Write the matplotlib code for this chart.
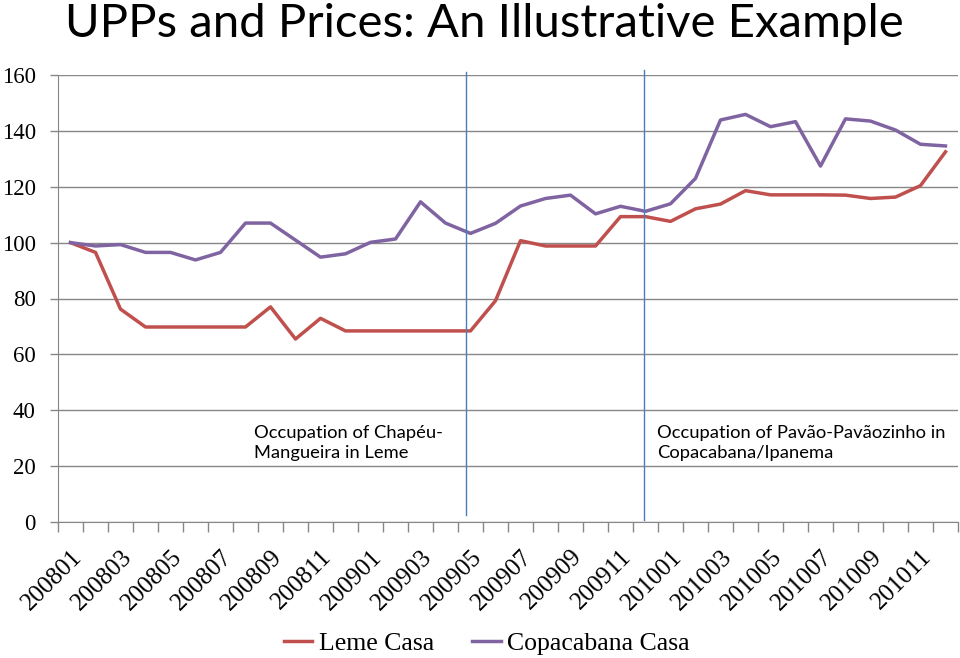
import matplotlib
matplotlib.use("Agg")
import matplotlib.pyplot as plt
import numpy as np

months = [f"{y}{m:02d}" for y in (2008, 2009, 2010) for m in range(1, 13)]
leme = [100, 96.5, 76.2, 69.8, 69.8, 69.8, 69.8, 69.8, 77.0, 65.5, 72.9, 68.4,
        68.4, 68.4, 68.4, 68.4, 68.4, 79.2, 100.7, 98.8, 98.8, 98.8, 109.3, 109.3,
        107.6, 112.1, 113.8, 118.6, 117.1, 117.1, 117.1, 117.0, 115.8, 116.3, 120.4, 132.5]
copa = [100, 98.8, 99.3, 96.5, 96.5, 93.8, 96.5, 107.0, 107.0, 100.9, 94.8, 96.0,
        100.1, 101.3, 114.6, 107.0, 103.3, 106.9, 113.1, 115.8, 117.0, 110.3, 113.0, 111.2,
        113.9, 123.0, 143.9, 145.9, 141.5, 143.3, 127.4, 144.3, 143.5, 140.3, 135.2, 134.6]
yticks = [0, 20, 40, 60, 80, 100, 120, 140, 160]
series_names = ["Leme Casa", "Copacabana Casa"]
notes = ["Occupation of Chapéu-\nMangueira in Leme",
         "Occupation of Pavão-Pavãozinho in\nCopacabana/Ipanema"]

SERIF = "Liberation Serif"
SANS = "Lato"
RED = "#C0504D"
PURPLE = "#8064A2"
GRID = "#878787"
VLINE = "#4A7EBB"

fig = plt.figure(figsize=(9.6, 6.58), dpi=100)
ax = fig.add_axes([58/960, 1-522/658, 900/960, 447/658])

x = np.arange(len(months))
ax.plot(x, leme, color=RED, lw=2.5, label=series_names[0], solid_joinstyle="round")
ax.plot(x, copa, color=PURPLE, lw=2.5, label=series_names[1], solid_joinstyle="round")

ax.set_xlim(-0.5, len(months) - 0.5)
ax.set_ylim(0, 160)
ax.set_yticks(yticks)
ax.set_yticklabels([str(v) for v in yticks], fontfamily=SERIF, fontsize=16.5)
ax.yaxis.grid(True, color=GRID, lw=1)
ax.set_axisbelow(True)
ax.tick_params(axis="y", length=6, color=GRID, pad=10, width=1)

ax.set_xticks(np.arange(-0.5, len(months), 1), minor=True)
ax.set_xticks(x[::2])
ax.set_xticklabels(months[::2], rotation=45, ha="right", va="top",
                   rotation_mode="anchor", fontfamily=SERIF, fontsize=18)
ax.tick_params(axis="x", which="major", length=0, pad=17)
ax.tick_params(axis="x", which="minor", length=7, color=GRID, width=1)

for s in ("top", "right"):
    ax.spines[s].set_visible(False)
ax.spines["left"].set_color(GRID)
ax.spines["bottom"].set_color(GRID)

# event marker lines
ax.plot([15.82, 15.82], [2.5, 161.1], color=VLINE, lw=1, clip_on=False)
ax.plot([22.94, 22.94], [0.7, 161.8], color=VLINE, lw=1, clip_on=False)

ax.text(7.35, 21.8, notes[0], fontfamily=SANS, fontsize=13.2, va="bottom", ha="left",
        linespacing=1.3)
ax.text(23.45, 21.8, notes[1], fontfamily=SANS, fontsize=13.2, va="bottom", ha="left",
        linespacing=1.3)

fig.text(0.505, 0.995, "UPPs and Prices: An Illustrative Example", ha="center", va="top",
         fontfamily=SANS, fontsize=34)

leg = fig.legend(loc="lower center", bbox_to_anchor=(0.507, -0.03), ncol=2, frameon=False,
                 prop={"family": SERIF, "size": 18.5}, handlelength=1.1, handletextpad=0.25,
                 columnspacing=1.5)

fig.savefig("out.png", dpi=100)
